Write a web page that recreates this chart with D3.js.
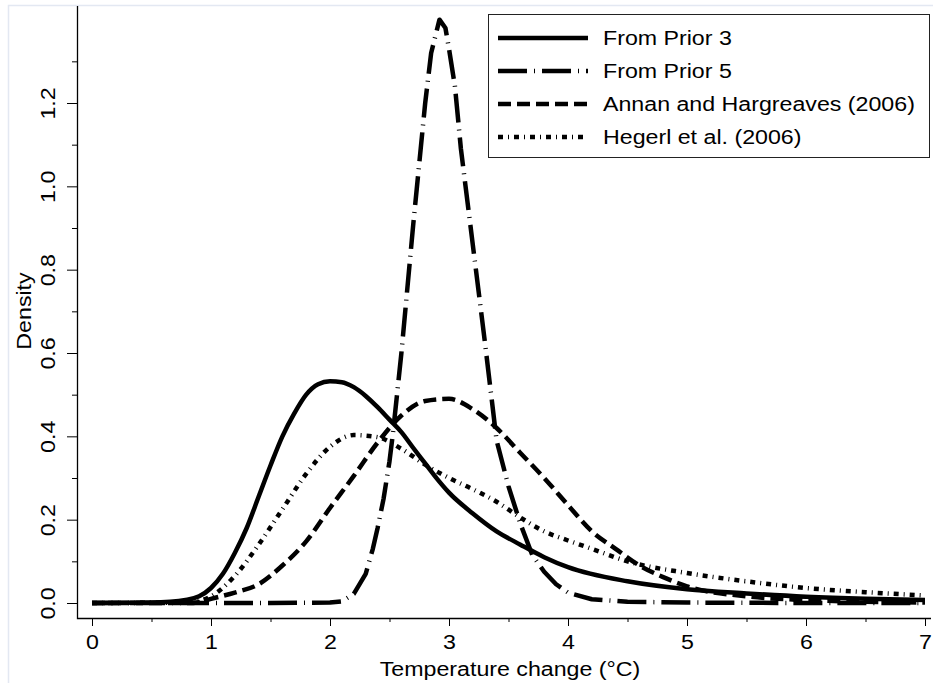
<!DOCTYPE html>
<html>
<head>
<meta charset="utf-8">
<script src="https://cdn.jsdelivr.net/npm/d3@7"></script>
<style>
  body { margin: 0; background: #fff; }
  svg { display: block; font-family: "Liberation Sans", Arial, sans-serif; }
</style>
</head>
<body>
<svg id="chart" width="933" height="683"></svg>
<script>
// series labels (legend order)
const seriesNames = ['From Prior 3', 'From Prior 5', 'Annan and Hargreaves (2006)', 'Hegerl et al. (2006)'];

// From Prior 3 (solid)
const prior3X = [0, 0.5, 0.8, 0.9, 1.0, 1.1, 1.2, 1.3, 1.4, 1.5, 1.6, 1.7, 1.8, 1.9, 2.0, 2.1, 2.2, 2.3, 2.4, 2.5, 2.6, 2.7, 2.8, 2.9, 3.0, 3.2, 3.4, 3.6, 3.8, 4.0, 4.5, 5.0, 5.5, 6.0, 6.5, 7.0];
const prior3Y = [0, 0.001, 0.008, 0.016, 0.036, 0.07, 0.12, 0.18, 0.255, 0.33, 0.4, 0.455, 0.5, 0.525, 0.532, 0.53, 0.518, 0.497, 0.47, 0.44, 0.41, 0.372, 0.335, 0.298, 0.265, 0.215, 0.172, 0.14, 0.11, 0.086, 0.052, 0.033, 0.023, 0.015, 0.01, 0.007];

// From Prior 5 (dash-dot)
const prior5X = [0, 1.5, 2.0, 2.1, 2.2, 2.3, 2.36, 2.4, 2.45, 2.5, 2.53, 2.6, 2.7, 2.8, 2.85, 2.92, 2.97, 3.0, 3.05, 3.1, 3.2, 3.3, 3.4, 3.5, 3.6, 3.7, 3.8, 3.9, 4.0, 4.2, 4.5, 5.0, 6.0, 7.0];
const prior5Y = [0, 0, 0.001, 0.004, 0.022, 0.07, 0.13, 0.18, 0.25, 0.34, 0.41, 0.6, 0.91, 1.2, 1.32, 1.4, 1.38, 1.33, 1.24, 1.09, 0.86, 0.63, 0.39, 0.28, 0.19, 0.115, 0.075, 0.045, 0.025, 0.009, 0.003, 0.001, 0, 0];

// Annan and Hargreaves (2006) (dashed)
const annanX = [0, 0.8, 0.9, 1.0, 1.2, 1.4, 1.6, 1.8, 2.0, 2.2, 2.4, 2.6, 2.8, 3.0, 3.2, 3.4, 3.6, 3.8, 4.0, 4.2, 4.4, 4.6, 4.8, 5.0, 5.5, 6.0, 6.5, 7.0];
const annanY = [0, 0, 0.002, 0.01, 0.025, 0.045, 0.09, 0.148, 0.228, 0.305, 0.385, 0.45, 0.485, 0.49, 0.465, 0.42, 0.36, 0.3, 0.235, 0.172, 0.13, 0.09, 0.062, 0.04, 0.016, 0.007, 0.003, 0.001];

// Hegerl et al. (2006) (dot-dot-dash)
const hegerlX = [0, 0.8, 0.9, 1.0, 1.2, 1.4, 1.6, 1.8, 2.0, 2.2, 2.4, 2.6, 2.8, 3.0, 3.2, 3.4, 3.6, 3.8, 4.0, 4.2, 4.5, 5.0, 5.5, 6.0, 6.5, 7.0];
const hegerlY = [0, 0.001, 0.005, 0.016, 0.065, 0.14, 0.225, 0.31, 0.375, 0.403, 0.398, 0.37, 0.332, 0.3, 0.273, 0.243, 0.205, 0.172, 0.15, 0.13, 0.1, 0.072, 0.052, 0.036, 0.026, 0.018];

const xTicks = [0, 1, 2, 3, 4, 5, 6, 7];
const xMinorTicks = [0.5, 1.5, 2.5, 3.5, 4.5, 5.5, 6.5];
const yTicks = [0, 0.2, 0.4, 0.6, 0.8, 1.0, 1.2];
const yMinorTicks = [0.1, 0.3, 0.5, 0.7, 0.9, 1.1, 1.3];

const svg = d3.select('#chart');
const font = 20;
const wide = 'scale(1.16,1)'; // the original glyphs run wider than Arial

// faint frame of the original figure
svg.append('path')
  .attr('d', 'M 8.5 683 L 8.5 5.5 L 933 5.5')
  .attr('fill', 'none')
  .attr('stroke', '#e3e8f2')
  .attr('stroke-width', 1.5);

const x = d3.scaleLinear().domain([0, 7]).range([92, 925]);
const y = d3.scaleLinear().domain([0, 1.2]).range([603, 103]);

// x axis
const xAxis = svg.append('g')
  .attr('transform', 'translate(0,618)')
  .call(d3.axisBottom(x).tickValues(xTicks).tickSize(8).tickSizeOuter(0).tickFormat(d3.format('d')));
xAxis.select('.domain').remove();
xAxis.selectAll('.tick line').attr('stroke', '#000').attr('stroke-width', 1);
xAxis.selectAll('.tick text')
  .attr('font-size', font)
  .attr('font-family', null)
  .attr('fill', '#000')
  .attr('y', null)
  .attr('dy', null)
  .attr('transform', 'translate(0,31) ' + wide);
svg.append('g')
  .attr('transform', 'translate(0,618)')
  .call(d3.axisBottom(x).tickValues(xMinorTicks).tickSize(4).tickSizeOuter(0).tickFormat(''))
  .call(g => g.select('.domain').remove())
  .selectAll('.tick line').attr('stroke', '#000');

// y axis
const yAxis = svg.append('g')
  .attr('transform', 'translate(77,0)')
  .call(d3.axisLeft(y).tickValues(yTicks).tickSize(10).tickSizeOuter(0).tickFormat(d3.format('.1f')));
yAxis.select('.domain').remove();
yAxis.selectAll('.tick line').attr('stroke', '#000');
yAxis.selectAll('.tick text')
  .attr('font-size', font)
  .attr('font-family', null)
  .attr('fill', '#000')
  .attr('x', null)
  .attr('dy', null)
  .attr('text-anchor', 'middle')
  .attr('transform', 'translate(-22,0) rotate(-90) ' + wide);
svg.append('g')
  .attr('transform', 'translate(77,0)')
  .call(d3.axisLeft(y).tickValues(yMinorTicks).tickSize(5).tickSizeOuter(0).tickFormat(''))
  .call(g => g.select('.domain').remove())
  .selectAll('.tick line').attr('stroke', '#000');

// L-shaped axis lines
svg.append('path')
  .attr('d', 'M 77.5 6 L 77.5 618.5 L 931 618.5')
  .attr('fill', 'none')
  .attr('stroke', '#000')
  .attr('stroke-width', 1.3);

// axis titles
svg.append('text')
  .attr('transform', 'translate(510,676) ' + wide)
  .attr('text-anchor', 'middle')
  .attr('font-size', font)
  .text('Temperature change (°C)');
svg.append('text')
  .attr('transform', 'translate(31,311) rotate(-90) ' + wide)
  .attr('text-anchor', 'middle')
  .attr('font-size', font)
  .text('Density');

// curves
const series = [
  { name: seriesNames[0], xs: prior3X, ys: prior3Y, dash: null, curve: d3.curveMonotoneX },
  { name: seriesNames[1], xs: prior5X, ys: prior5Y, dash: '29,7,1,7', curve: d3.curveLinear },
  { name: seriesNames[2], xs: annanX, ys: annanY, dash: '13,6', curve: d3.curveMonotoneX },
  { name: seriesNames[3], xs: hegerlX, ys: hegerlY, dash: '5,5,1,5', curve: d3.curveMonotoneX }
];

const plot = svg.append('g');
series.forEach(function(s) {
  const pts = s.xs.map(function(v, i) { return [v, s.ys[i]]; });
  const line = d3.line()
    .x(function(d) { return x(d[0]); })
    .y(function(d) { return y(d[1]); })
    .curve(s.curve);
  plot.append('path')
    .datum(pts)
    .attr('d', line)
    .attr('fill', 'none')
    .attr('stroke', '#000')
    .attr('stroke-width', 4.5)
    .attr('stroke-linejoin', 'round')
    .attr('stroke-dasharray', s.dash);
});

// legend
const legend = svg.append('g');
legend.append('rect')
  .attr('x', 488.5)
  .attr('y', 14.5)
  .attr('width', 441)
  .attr('height', 143)
  .attr('fill', '#fff')
  .attr('stroke', '#222')
  .attr('stroke-width', 1);
const rowY = d3.scaleLinear().domain([0, 3]).range([38, 137]);
series.forEach(function(s, i) {
  legend.append('line')
    .attr('x1', 498)
    .attr('x2', 588)
    .attr('y1', rowY(i))
    .attr('y2', rowY(i))
    .attr('stroke', '#000')
    .attr('stroke-width', 4.5)
    .attr('stroke-dasharray', s.dash);
  legend.append('text')
    .attr('transform', 'translate(603,' + rowY(i) + ') ' + wide)
    .attr('dy', '0.36em')
    .attr('font-size', font)
    .text(s.name);
});
</script>
</body>
</html>
